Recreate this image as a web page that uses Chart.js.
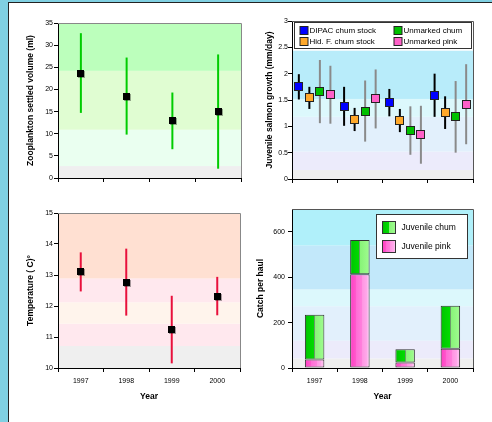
<!DOCTYPE html>
<html>
<head>
<meta charset="utf-8">
<script src="https://cdn.jsdelivr.net/npm/chart.js@4"></script>
<style>
  html, body { margin: 0; padding: 0; }
  body { width: 492px; height: 422px; background: #80d0e2; position: relative; overflow: hidden; }
  #panel { position: absolute; left: 8px; top: 2px; right: 0; bottom: 0; background: #fff; border-left: 1px solid #222; border-top: 1px solid #222; }
  .box { position: absolute; }
  .box canvas { display: block; }
</style>
</head>
<body>
<div id="panel"></div>
<div class="box" style="left:20px;top:10px;width:230px;height:185px"><canvas id="zoo"></canvas></div>
<div class="box" style="left:250px;top:10px;width:242px;height:185px"><canvas id="growth"></canvas></div>
<div class="box" style="left:20px;top:200px;width:230px;height:215px"><canvas id="temp"></canvas></div>
<div class="box" style="left:250px;top:200px;width:242px;height:215px"><canvas id="catch"></canvas></div>
<script>
const years = ["1997", "1998", "1999", "2000"]

// zooplankton settled volume (ml), mean and half error bar
const zooMean = [23.7, 18.5, 12.9, 15.0]
const zooErr = [9.0, 8.7, 6.4, 12.9]
const zooBands = [0, 2.7, 10.9, 24.2, 35]

// temperature (C)
const tempMean = [13.1, 12.77, 11.24, 12.32]
const tempErr = [0.63, 1.08, 1.09, 0.62]
const tempBands = [10, 10.71, 11.43, 12.12, 12.89, 15]

// juvenile salmon growth (mm/day)
const growthSeries = ["DIPAC chum stock", "Hid. F. chum stock", "Unmarked chum", "Unmarked pink"]
const dipacMean = [1.75, 1.38, 1.45, 1.59]
const dipacErr = [0.24, 0.37, 0.26, 0.41]
const hidMean = [1.54, 1.13, 1.11, 1.26]
const hidErr = [0.21, 0.22, 0.22, 0.31]
const chumMean = [1.66, 1.29, 0.92, 1.18]
const chumErr = [0.6, 0.58, 0.46, 0.68]
const pinkMean = [1.6, 1.52, 0.84, 1.42]
const pinkErr = [0.55, 0.56, 0.55, 0.76]
const growthBands = [0, 0.17, 0.52, 1.18, 1.52, 2.44, 3]

// catch per haul
const catchSeries = ["Juvenile chum", "Juvenile pink"]
const catchPink = [37, 413, 24, 85]
const catchChum = [197, 151, 59, 189]
const catchBands = [0, 42, 120, 272, 346, 539, 700]

const FONT = "'Liberation Sans', Arial, sans-serif"
Chart.defaults.font.family = FONT
Chart.defaults.color = "#000"
Chart.defaults.animation = false

const greenStops = [[0, "#00b400"], [0.1, "#00c800"], [0.48, "#00dc00"], [0.48, "#6a9a6a"], [0.52, "#6a9a6a"], [0.52, "#88f478"], [1, "#a0fc90"]]
const pinkStops = [[0, "#ff3cc4"], [0.3, "#ff5acc"], [0.3, "#ff6cd6"], [0.6, "#ff80dc"], [0.6, "#ff94e2"], [0.85, "#ffa8ea"], [0.85, "#ffb6ee"], [1, "#ffbff0"]]
const catchBarPct = 0.43

const errorBars = (mean, err) => mean.map((m, i) => [m - err[i], m + err[i]])

function xAxis(height, showLabels, title) {
  return {
    grid: { display: true, drawOnChartArea: false, drawTicks: true, tickLength: 4, color: "#000", offset: true },
    border: { color: "#000" },
    ticks: { display: showLabels, font: { size: 7 }, color: "#000", padding: 5, maxRotation: 0 },
    title: title ? { display: true, text: title, color: "#000", font: { size: 8.5, weight: "bold" }, padding: { top: 0, bottom: 5 } } : { display: false },
    afterFit: (scale) => { scale.height = height },
  }
}

function yAxis(width, min, max, step, title, titlePad, labelPad) {
  return {
    min, max,
    grid: { drawOnChartArea: false, tickLength: 4, color: "#000" },
    border: { color: "#000" },
    ticks: { stepSize: step, includeBounds: false, font: { size: 7 }, color: "#000", padding: labelPad, callback: (v) => String(v) },
    title: { display: true, text: title, color: "#000", font: { size: 8.5, weight: "bold" }, padding: { top: titlePad, bottom: 0 } },
    afterFit: (scale) => { scale.width = width },
  }
}

function bandPlugin(bounds, colors) {
  return {
    id: "bands",
    beforeDraw(chart) {
      const { ctx, chartArea: a, scales: { y } } = chart
      ctx.save()
      for (let i = 0; i < colors.length; i++) {
        const top = y.getPixelForValue(bounds[i + 1])
        const bottom = y.getPixelForValue(bounds[i])
        ctx.fillStyle = colors[i]
        ctx.fillRect(a.left, top, a.right - a.left, bottom - top)
      }
      ctx.restore()
    },
  }
}

function framePlugin(color) {
  return {
    id: "frame",
    afterDraw(chart) {
      const { ctx, chartArea: a } = chart
      ctx.save()
      ctx.strokeStyle = color
      ctx.lineWidth = 1
      ctx.beginPath()
      ctx.moveTo(a.left, Math.round(a.top) + 0.5)
      ctx.lineTo(Math.round(a.right) + 0.5, Math.round(a.top) + 0.5)
      ctx.lineTo(Math.round(a.right) + 0.5, a.bottom)
      ctx.stroke()
      ctx.restore()
    },
  }
}

function markerPlugin(means, fills, size, outlined) {
  return {
    id: "markers",
    afterDatasetsDraw(chart) {
      const { ctx, scales: { y } } = chart
      ctx.save()
      means.forEach((series, d) => {
        chart.getDatasetMeta(d).data.forEach((bar, i) => {
          const x = Math.round(bar.x - size / 2)
          const top = Math.round(y.getPixelForValue(series[i]) - size / 2)
          if (outlined) {
            ctx.fillStyle = "#222"
            ctx.fillRect(x - 1, top - 1, size + 2, size + 2)
          } else {
            ctx.fillStyle = "rgba(0,0,0,0.35)"
            ctx.fillRect(x + 1, top + 1, size, size)
          }
          ctx.fillStyle = fills[d]
          ctx.fillRect(x, top, size, size)
        })
      })
      ctx.restore()
    },
  }
}

function hGradient(ctx, left, right, stops) {
  const g = ctx.createLinearGradient(left, 0, right, 0)
  stops.forEach(([o, c]) => g.addColorStop(o, c))
  return g
}

function barFill(stops) {
  return (context) => {
    const chart = context.chart
    const area = chart.chartArea
    if (!area || context.dataIndex == null) return stops[1][1]
    const w = (area.width / years.length) * catchBarPct
    const cx = chart.scales.x.getPixelForValue(context.dataIndex)
    return hGradient(chart.ctx, cx - w / 2, cx + w / 2, stops)
  }
}

const growthFills = ["#0000ff", "#ffa82a", "#00c000", "#ff60c8"]

const growthLegend = {
  id: "growthLegend",
  afterDraw(chart) {
    const { ctx, chartArea: a } = chart
    const left = Math.round(a.left) + 2.5, top = Math.round(a.top) + 1.5
    const right = Math.round(a.right) - 1.5, bottom = top + 26
    ctx.save()
    ctx.fillStyle = "#fff"
    ctx.fillRect(left, top, right - left, bottom - top)
    ctx.strokeStyle = "#333"
    ctx.strokeRect(left, top, right - left, bottom - top)
    ctx.font = "8px " + FONT
    ctx.textBaseline = "middle"
    const cols = [left + 6, left + 100]
    const order = [0, 2, 1, 3]
    order.forEach((s, k) => {
      const x = cols[k % 2], y = top + 8 + Math.floor(k / 2) * 11
      ctx.fillStyle = "#222"
      ctx.fillRect(x - 1, Math.round(y - 4) - 1, 9, 9)
      ctx.fillStyle = growthFills[s]
      ctx.fillRect(x, Math.round(y - 4), 7, 7)
      ctx.fillStyle = "#000"
      ctx.fillText(growthSeries[s], x + 9, y + 0.5)
    })
    ctx.restore()
  },
}

const catchLegend = {
  id: "catchLegend",
  afterDraw(chart) {
    const { ctx, chartArea: a } = chart
    const right = Math.round(a.right) - 5.5, left = right - 91
    const top = Math.round(a.top) + 5.5, bottom = top + 44
    ctx.save()
    ctx.fillStyle = "#fff"
    ctx.fillRect(left, top, right - left, bottom - top)
    ctx.strokeStyle = "#333"
    ctx.strokeRect(left, top, right - left, bottom - top)
    ctx.font = "8.5px " + FONT
    ctx.textBaseline = "middle"
    const stops = [greenStops, pinkStops]
    catchSeries.forEach((name, k) => {
      const x = left + 6, y = top + 7 + k * 19
      ctx.fillStyle = hGradient(ctx, x, x + 13, stops[k])
      ctx.fillRect(x, y, 13, 12)
      ctx.strokeStyle = "#333"
      ctx.strokeRect(x, y, 13, 12)
      ctx.fillStyle = "#000"
      ctx.fillText(name, x + 19, y + 6)
    })
    ctx.restore()
  },
}

const baseOptions = {
  responsive: true,
  maintainAspectRatio: false,
  animation: false,
  plugins: { legend: { display: false }, tooltip: { enabled: false } },
}

new Chart(document.getElementById("zoo"), {
  type: "bar",
  data: { labels: years, datasets: [{ data: errorBars(zooMean, zooErr), backgroundColor: "#00cc00", maxBarThickness: 2, borderWidth: 0 }] },
  options: {
    ...baseOptions,
    layout: { padding: { top: 13, right: 9, bottom: 0, left: 0 } },
    scales: {
      x: xAxis(17, false),
      y: yAxis(38, 0, 35, 5, "Zooplankton settled volume (ml)", 6, 1),
    },
  },
  plugins: [bandPlugin(zooBands, ["#efefef", "#eafff0", "#e0fdd2", "#bcffbc"]), framePlugin("#888"), markerPlugin([zooMean], ["#000"], 7, false)],
})

const growthMeans = [dipacMean, hidMean, chumMean, pinkMean]
const growthErrs = [dipacErr, hidErr, chumErr, pinkErr]
const growthLines = ["#000", "#000", "#8a8a8a", "#8a8a8a"]

new Chart(document.getElementById("growth"), {
  type: "bar",
  data: {
    labels: years,
    datasets: growthMeans.map((mean, d) => ({
      label: growthSeries[d],
      data: errorBars(mean, growthErrs[d]),
      backgroundColor: growthLines[d],
      maxBarThickness: 2,
      borderWidth: 0,
      categoryPercentage: 0.93,
      barPercentage: 1,
    })),
  },
  options: {
    ...baseOptions,
    layout: { padding: { top: 11, right: 19, bottom: 0, left: 0 } },
    scales: {
      x: xAxis(16, false),
      y: yAxis(42, 0, 3, 0.5, "Juvenile salmon growth (mm/day)", 15, 0),
    },
  },
  plugins: [
    bandPlugin(growthBands, ["#efefef", "#ecebfb", "#e2f0fc", "#dcf8fc", "#b8ecfa", "#ffffff"]),
    framePlugin("#555"),
    markerPlugin(growthMeans, growthFills, 7, true),
    growthLegend,
  ],
})

new Chart(document.getElementById("temp"), {
  type: "bar",
  data: { labels: years, datasets: [{ data: errorBars(tempMean, tempErr), backgroundColor: "#e8103c", maxBarThickness: 2, borderWidth: 0 }] },
  options: {
    ...baseOptions,
    layout: { padding: { top: 13, right: 10, bottom: 8, left: 0 } },
    scales: {
      x: xAxis(39, true, "Year"),
      y: yAxis(38, 10, 15, 1, "Temperature ( C)°", 6, 1),
    },
  },
  plugins: [bandPlugin(tempBands, ["#efefef", "#ffe8ee", "#fff4ec", "#ffe8ee", "#ffe0d2"]), framePlugin("#888"), markerPlugin([tempMean], ["#000"], 7, false)],
})

new Chart(document.getElementById("catch"), {
  type: "bar",
  data: {
    labels: years,
    datasets: [
      { label: catchSeries[1], data: catchPink, backgroundColor: barFill(pinkStops), borderColor: "#333", borderWidth: 1, borderSkipped: false, categoryPercentage: catchBarPct, barPercentage: 1 },
      { label: catchSeries[0], data: catchChum, backgroundColor: barFill(greenStops), borderColor: "#333", borderWidth: 1, borderSkipped: false, categoryPercentage: catchBarPct, barPercentage: 1 },
    ],
  },
  options: {
    ...baseOptions,
    layout: { padding: { top: 9, right: 19, bottom: 8, left: 0 } },
    scales: {
      x: { ...xAxis(39, true, "Year"), stacked: true },
      y: { ...yAxis(42, 0, 700, 200, "Catch per haul", 6, 3), stacked: true },
    },
  },
  plugins: [bandPlugin(catchBands, ["#efefef", "#ecebfb", "#e2f0fc", "#dcf8fc", "#c2e8fa", "#b0f0fa"]), framePlugin("#555"), catchLegend],
})
</script>
</body>
</html>
